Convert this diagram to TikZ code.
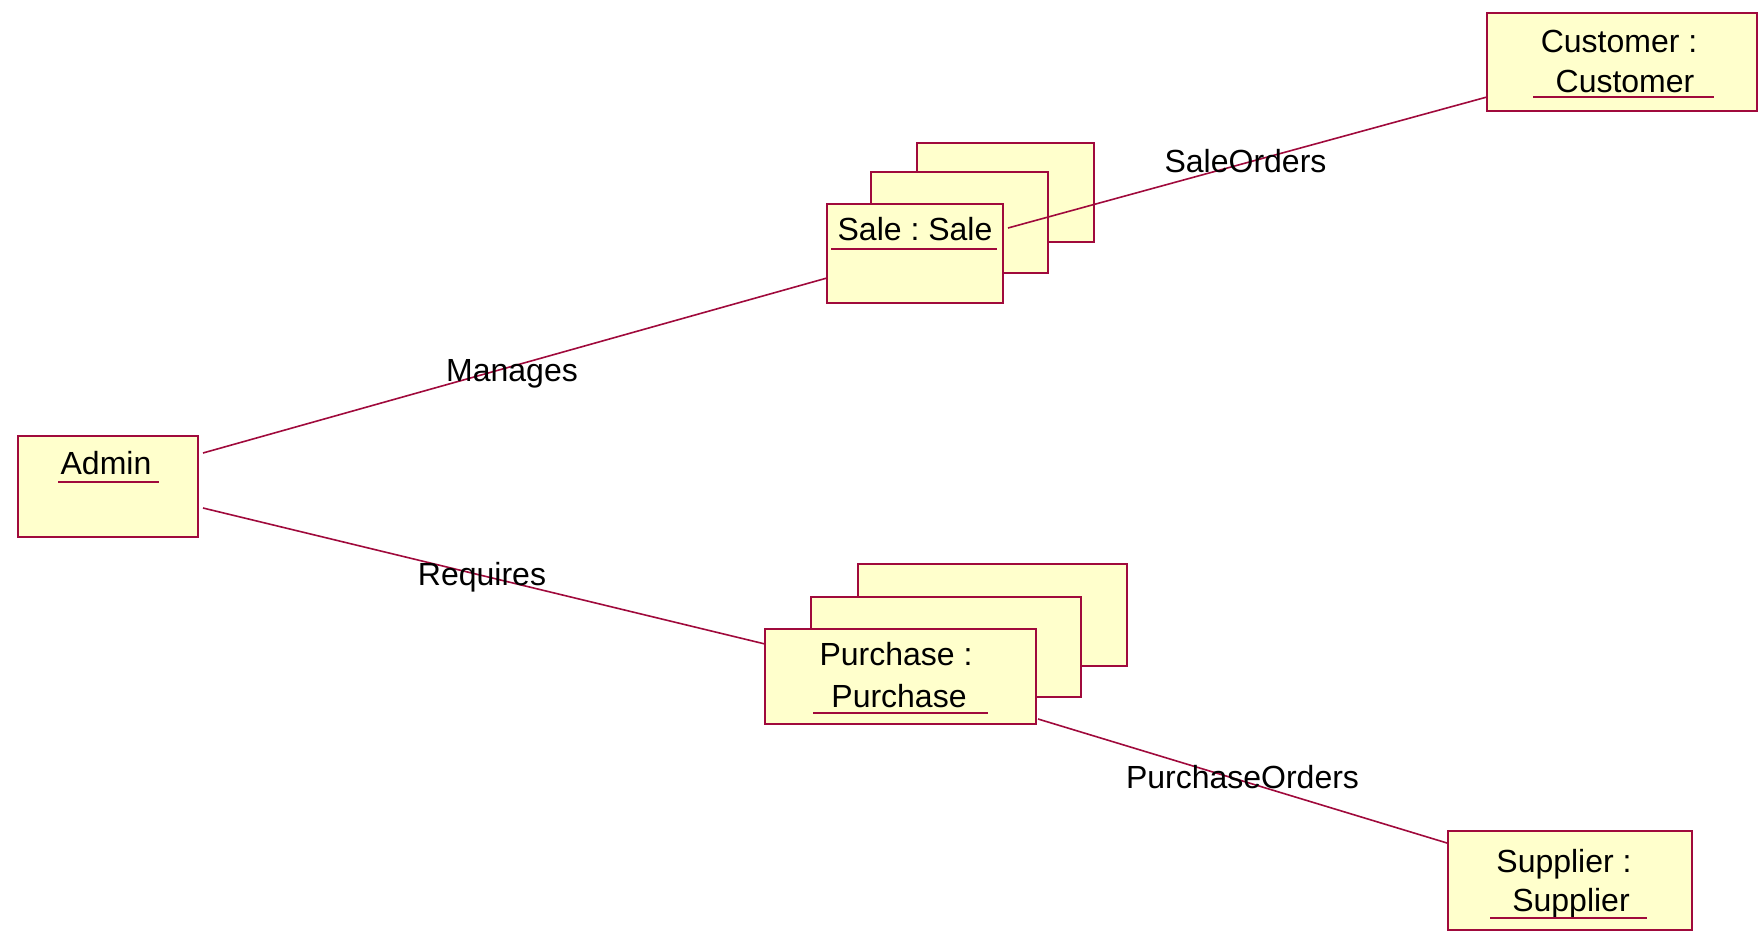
\documentclass[tikz,border=0pt]{standalone}
\usepackage{fontspec}
\setmainfont{Liberation Sans}
\usetikzlibrary{calc}
\definecolor{rosered}{RGB}{160,10,60}
\definecolor{roseyellow}{RGB}{255,255,204}
\frenchspacing
\begin{document}
\begin{tikzpicture}[x=0.5pt,y=-0.5pt,
  font=\fontsize{16}{19}\selectfont,
  objbox/.style={draw=rosered, fill=roseyellow, line width=1pt, inner sep=0pt, outer sep=0pt},
  objtext/.style={anchor=base, inner sep=0pt, text=black},
  uline/.style={draw=rosered, line width=1pt},
  assoc/.style={draw=rosered, line width=0.8pt},
  asslabel/.style={anchor=base, inner sep=0pt, text=black}]
\useasboundingbox (0,0) rectangle (1763,936);
% Admin
\node[objbox, minimum width=90pt, minimum height=50.5pt] (admin) at (108,486.5) {};
\node[objtext] (admint) at (106,474) {Admin};
\draw[uline] (58,482) -- (159,482);
% Sale stack
\node[objbox, minimum width=88.5pt, minimum height=49.5pt] (saleback) at (1005.5,192.5) {};
\node[objbox, minimum width=88.5pt, minimum height=50.5pt] (salemid) at (959.5,222.5) {};
\node[objbox, minimum width=88pt, minimum height=49.5pt] (sale) at (915,253.5) {};
\node[objtext] (salet) at (915,241) {Sale : Sale};
\draw[uline] (831,249) -- (997,249);
% Purchase stack
\node[objbox, minimum width=134.5pt, minimum height=51pt] (purchback) at (992.5,615) {};
\node[objbox, minimum width=135pt, minimum height=50pt] (purchmid) at (946,647) {};
\node[objbox, minimum width=135.5pt, minimum height=47.5pt] (purch) at (900.5,676.5) {};
\node[objtext] (purcht1) at (896,665) {Purchase :};
\node[objtext] (purcht2) at (899,707) {Purchase};
\draw[uline] (813,713) -- (988,713);
% Customer
\node[objbox, minimum width=135pt, minimum height=49pt] (cust) at (1622,62) {};
\node[objtext] (custt1) at (1619,53) {Customer :};
\node[objtext] (custt2) at (1625,93) {Customer};
\draw[uline] (1533,97) -- (1714,97);
% Supplier
\node[objbox, minimum width=122pt, minimum height=49.5pt] (supp) at (1570,880.5) {};
\node[objtext] (suppt1) at (1564,872) {Supplier :};
\node[objtext] (suppt2) at (1571,911) {Supplier};
\draw[uline] (1490,918) -- (1647,918);
% Associations
\draw[assoc] ($(admin.east)+(5,-33.5)$) -- ($(sale.west)+(0,24.5)$);
\draw[assoc] ($(admin.east)+(5,21.5)$) -- ($(purch.west)+(0,-32.5)$);
\draw[assoc] ($(sale.east)+(5,-25.5)$) -- ($(cust.west)+(0,35)$);
\draw[assoc] ($(purch.east)+(2,42.5)$) -- ($(supp.west)+(-1,-37.5)$);
% Labels
\node[asslabel] (lmanages) at (512,382) {Manages};
\node[asslabel] (lsaleorders) at (1245.5,173) {SaleOrders};
\node[asslabel] (lrequires) at (482,585) {Requires};
\node[asslabel] (lpurchorders) at (1242.5,788) {PurchaseOrders};
\end{tikzpicture}
\end{document}
